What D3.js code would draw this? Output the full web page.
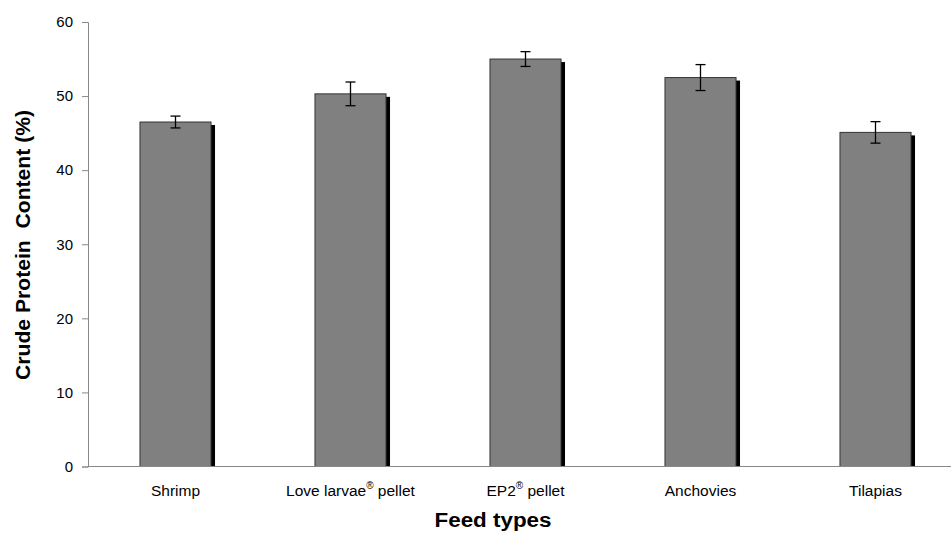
<!DOCTYPE html>
<html lang="en">
<head>
<meta charset="UTF-8">
<title>Crude Protein Content by Feed Type</title>
<style>
    body { margin: 0; padding: 0; background: #ffffff; }
    svg { display: block; }
    .tick text { font-family: 'Liberation Sans', Arial, sans-serif; font-size: 15px; fill: #000; }
    .xlabel { font-family: 'Liberation Sans', Arial, sans-serif; font-size: 15.5px; fill: #000; }
    .title { font-family: 'Liberation Sans', Arial, sans-serif; font-weight: bold; font-size: 20px; fill: #000; white-space: pre; }
</style>
<script src="https://d3js.org/d3.v7.min.js"></script>
</head>
<body>
<svg id="chart" width="951" height="533"></svg>
<script>
    // feed types, mean crude protein (%) and error (±)
    const categories = ["Shrimp", "Love larvae", "EP2", "Anchovies", "Tilapias"];
    const labelMain = ["Shrimp", "Love larvae", "EP2", "Anchovies", "Tilapias"];
    const labelSup = ["", "®", "®", "", ""];
    const labelTail = ["", " pellet", " pellet", "", ""];
    const values = [46.5, 50.3, 55.0, 52.5, 45.1];
    const errors = [0.8, 1.6, 1.0, 1.75, 1.45];
    const yTicks = [0, 10, 20, 30, 40, 50, 60];

    const svg = d3.select("#chart");
    const margin = { left: 88, top: 22, bottom: 66.5 };
    const height = 533;

    const x = d3.scaleBand()
        .domain(categories)
        .range([margin.left, margin.left + 875])
        .paddingInner(0.594)
        .paddingOuter(0.297);

    const y = d3.scaleLinear()
        .domain([0, 60])
        .range([height - margin.bottom, margin.top]);

    // y axis
    const yAxis = svg.append("g")
        .attr("transform", `translate(${margin.left},0)`)
        .call(d3.axisLeft(y).tickValues(yTicks).tickSize(6).tickPadding(9));
    yAxis.selectAll("path, line").attr("stroke", "#888");

    // shadows
    svg.selectAll(".shadow")
        .data(categories)
        .enter().append("rect")
        .attr("class", "shadow")
        .attr("x", d => x(d) + 4)
        .attr("y", (d, i) => y(values[i]) + 3)
        .attr("width", x.bandwidth())
        .attr("height", (d, i) => y(0) - y(values[i]) - 3)
        .attr("fill", "#000");

    // bars
    svg.selectAll(".bar")
        .data(categories)
        .enter().append("rect")
        .attr("class", "bar")
        .attr("x", d => x(d))
        .attr("y", (d, i) => y(values[i]))
        .attr("width", x.bandwidth())
        .attr("height", (d, i) => y(0) - y(values[i]))
        .attr("fill", "#808080")
        .attr("stroke", "#333")
        .attr("stroke-width", 1);

    // x axis line
    svg.append("line")
        .attr("x1", margin.left).attr("x2", 951)
        .attr("y1", y(0)).attr("y2", y(0))
        .attr("stroke", "#888").attr("stroke-width", 1);

    // error bars
    const err = svg.selectAll(".err")
        .data(categories)
        .enter().append("g")
        .attr("class", "err")
        .attr("stroke", "#000")
        .attr("stroke-width", 1.3);
    const cx = d => x(d) + x.bandwidth() / 2;
    err.append("line")
        .attr("x1", cx).attr("x2", cx)
        .attr("y1", (d, i) => y(values[i] + errors[i]))
        .attr("y2", (d, i) => y(values[i] - errors[i]));
    err.append("line")
        .attr("x1", d => cx(d) - 5).attr("x2", d => cx(d) + 5)
        .attr("y1", (d, i) => y(values[i] + errors[i]))
        .attr("y2", (d, i) => y(values[i] + errors[i]));
    err.append("line")
        .attr("x1", d => cx(d) - 5).attr("x2", d => cx(d) + 5)
        .attr("y1", (d, i) => y(values[i] - errors[i]))
        .attr("y2", (d, i) => y(values[i] - errors[i]));

    // category labels
    const lab = svg.selectAll(".xlabel")
        .data(categories)
        .enter().append("text")
        .attr("class", "xlabel")
        .attr("x", cx)
        .attr("y", y(0) + 29)
        .attr("text-anchor", "middle");
    lab.append("tspan").text((d, i) => labelMain[i]);
    lab.append("tspan")
        .attr("dy", -7)
        .attr("font-size", 10)
        .text((d, i) => labelSup[i]);
    lab.append("tspan")
        .attr("dy", 7)
        .text((d, i) => labelTail[i]);

    // axis titles
    svg.append("text")
        .attr("class", "title")
        .attr("x", 493)
        .attr("y", 527)
        .attr("text-anchor", "middle")
        .attr("textLength", 117)
        .attr("lengthAdjust", "spacingAndGlyphs")
        .text("Feed types");

    svg.append("text")
        .attr("class", "title")
        .attr("transform", "translate(30,245) rotate(-90)")
        .attr("text-anchor", "middle")
        .attr("textLength", 270)
        .attr("lengthAdjust", "spacingAndGlyphs")
        .text("Crude Protein  Content (%)");
</script>
</body>
</html>
